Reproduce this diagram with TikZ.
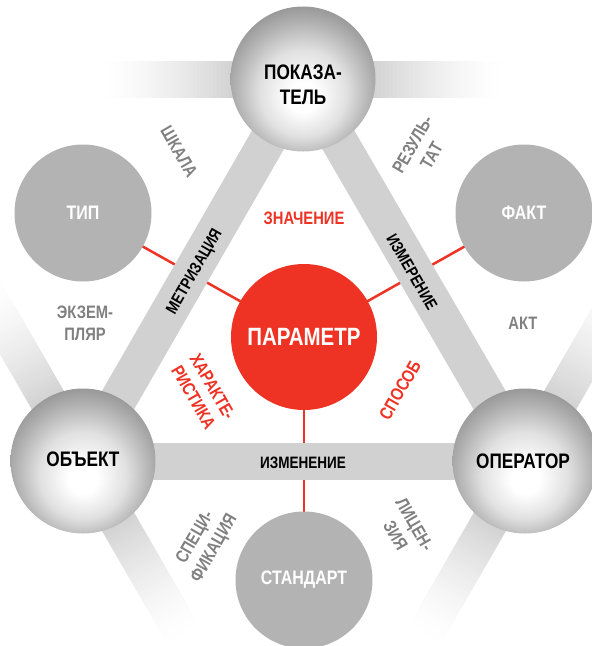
\documentclass[tikz,border=0pt]{standalone}
\usepackage{fontspec}
\setmainfont{Liberation Sans}[FakeStretch=0.82]
\definecolor{barc}{HTML}{D1D1D1}
\definecolor{flatc}{HTML}{B3B3B3}
\definecolor{redc}{HTML}{EE3224}
\definecolor{grayc}{HTML}{808080}
\pgfdeclareradialshading{sphereshade}{\pgfpoint{0bp}{-7bp}}{color(0bp)=(white); color(5bp)=(white); color(15bp)=(black!12); color(24bp)=(black!32); color(32bp)=(black!48); color(50bp)=(black!48)}
\pgfdeclarelayer{outer}
\pgfdeclarelayer{redl}
\pgfdeclarelayer{tri}
\pgfsetlayers{outer,redl,tri,main}
\newcommand{\fadebarstrips}[3]{%
 \begin{scope}[shift={(#1,#2)}, rotate=#3]
 \foreach \d in {66,70,...,198}{%
   \pgfmathsetmacro\pp{100*(max(0,1-(\d-66)/134))^1.5}%
   \fill[barc!\pp!white] (\d,-18.5) rectangle (\d+4.6,18.5);
 }
 \end{scope}}
\tikzset{
 sphere/.style={circle, minimum size=145pt, inner sep=0pt, shading=sphereshade},
 spheretext/.style={align=center, font=\bfseries\fontsize{21}{25}\selectfont, text=black, inner sep=0pt},
 flat/.style={circle, minimum size=137pt, inner sep=0pt, fill=flatc, text=white, font=\bfseries\fontsize{19.5}{23}\selectfont},
 core/.style={circle, minimum size=146pt, inner sep=0pt, fill=redc, text=white, font=\bfseries\fontsize{25}{30}\selectfont},
 tribar/.style={line width=37pt, draw=barc},
 redlink/.style={line width=2.5pt, draw=redc},
 barlabel/.style={font=\bfseries\fontsize{16.5}{20}\selectfont, text=black, inner sep=0pt},
 graylabel/.style={font=\bfseries\fontsize{18}{22}\selectfont, text=grayc, align=center, inner sep=0pt},
 redlabel/.style={font=\bfseries\fontsize{18}{22}\selectfont, text=redc, align=center, inner sep=0pt},
}
\begin{document}
\begin{tikzpicture}[x=1pt,y=-1pt]
\useasboundingbox (0,0) rectangle (592,646);
% main nodes
\node[sphere] (pok) at (303,79) {};
\node[sphere] (obj) at (83,461) {};
\node[sphere] (opr) at (525,461) {};
\node[flat] (tip) at (83,213) {ТИП};
\node[flat] (fakt) at (524,213) {ФАКТ};
\node[flat] (std) at (304,580) {СТАНДАРТ};
\node[core] (par) at (304,337) {ПАРАМЕТР};
\node[spheretext] (pokt) at (303,85) {ПОКАЗА-\\ТЕЛЬ};
\node[spheretext] (objt) at (83,459) {ОБЪЕКТ};
\node[spheretext] (oprt) at (523,461) {ОПЕРАТОР};
% outer fading bars
\begin{pgfonlayer}{outer}
\begin{scope}
\clip (0,0) rectangle (592,646);
\fadebarstrips{303}{79}{180}
\fadebarstrips{303}{79}{0}
\fadebarstrips{83}{461}{120}
\fadebarstrips{83}{461}{-60}
\fadebarstrips{525}{461}{60}
\fadebarstrips{525}{461}{240}
\end{scope}
\end{pgfonlayer}
% red links
\begin{pgfonlayer}{redl}
\draw[redlink] (par.center) -- (tip.center);
\draw[redlink] (par.center) -- (fakt.center);
\draw[redlink] (par.center) -- (std.center);
\end{pgfonlayer}
% triangle bars
\begin{pgfonlayer}{tri}
\draw[tribar] (pok.center) -- (obj.center);
\draw[tribar] (pok.center) -- (opr.center);
\draw[tribar] (obj.center) -- (opr.center);
\end{pgfonlayer}
% bar labels
\node[barlabel, rotate=60] (lmet) at (195,272) {МЕТРИЗАЦИЯ};
\node[barlabel, rotate=-60] (lizm) at (412,272) {ИЗМЕРЕНИЕ};
\node[barlabel] (lizn) at (303,463) {ИЗМЕНЕНИЕ};
% red labels
\node[redlabel] (lzn) at (304,218) {ЗНАЧЕНИЕ};
\node[redlabel, rotate=-60] (lhar) at (203,392) {ХАРАКТЕ-\\РИСТИКА};
\node[redlabel, rotate=60] (lsp) at (400,390) {СПОСОБ};
% gray labels
\node[graylabel, rotate=-60] (lsh) at (179,152) {ШКАЛА};
\node[graylabel, rotate=60] (lrez) at (422,150) {РЕЗУЛЬ-\\ТАТ};
\node[graylabel] (lekz) at (85,323) {ЭКЗЕМ-\\ПЛЯР};
\node[graylabel] (lakt) at (523,323) {АКТ};
\node[graylabel, rotate=60] (lspe) at (205,543) {СПЕЦИ-\\ФИКАЦИЯ};
\node[graylabel, rotate=-60] (llic) at (405,530) {ЛИЦЕН-\\ЗИЯ};
\end{tikzpicture}
\end{document}
